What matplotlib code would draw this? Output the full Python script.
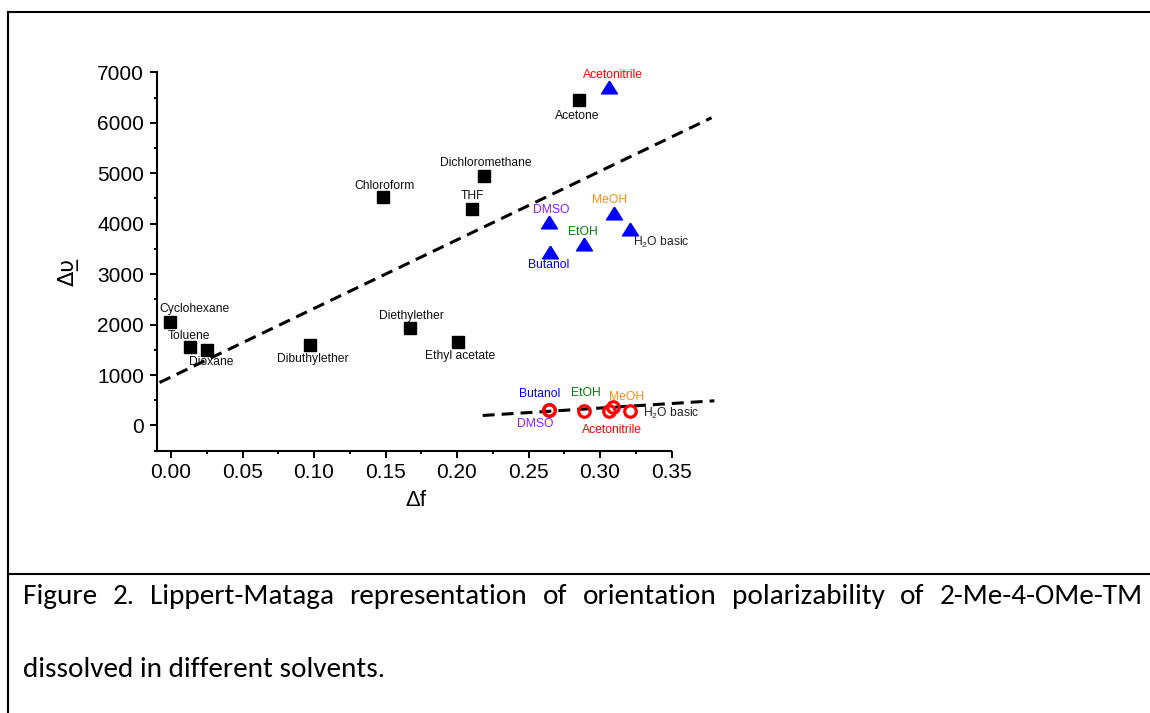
"""Lippert-Mataga plot of 2-Me-4-OMe-TM in different solvents, with caption box."""

import matplotlib
matplotlib.use("Agg")
import matplotlib.pyplot as plt
from matplotlib import font_manager
from matplotlib.lines import Line2D
from matplotlib.ticker import MultipleLocator

# Squares (black), upper series
sq_names = ["Cyclohexane", "Toluene", "Dioxane", "Dibuthylether", "Diethylether",
            "Ethyl acetate", "Chloroform", "THF", "Dichloromethane", "Acetone"]
sq_x = [-0.001, 0.0135, 0.025, 0.0974, 0.1673, 0.2007, 0.1485, 0.2105, 0.219, 0.285]
sq_y = [2059, 1564, 1499, 1598, 1929, 1663, 4529, 4285, 4950, 6450]

# Triangles (blue), upper series
tri_names = ["Acetonitrile", "DMSO", "MeOH", "EtOH", "H$_2$O basic", "Butanol"]
tri_x = [0.3065, 0.264, 0.3095, 0.289, 0.3207, 0.2648]
tri_y = [6713, 4040, 4218, 3598, 3895, 3446]

# Open circles (red), lower series
circ_names = ["Butanol", "DMSO", "EtOH", "MeOH", "Acetonitrile", "H$_2$O basic"]
circ_x = [0.2646, 0.2644, 0.289, 0.309, 0.306, 0.3207]
circ_y = [311, 305, 277, 376, 291, 277]

# dashed fit lines
fit_hi_x = [-0.008, 0.378]
fit_hi_y = [851, 6099]
fit_lo_x = [0.218, 0.380]
fit_lo_y = [198, 489]

CAPTION_1 = "Figure 2. Lippert-Mataga representation of orientation polarizability of 2-Me-4-OMe-TM"
CAPTION_2 = "dissolved in different solvents."

# label offsets in pixels (dx, dy up) and alignment
SQ_OFFS = [(25, 13), (-1, 11), (4, -12), (3, -14), (1, 12), (2, -14), (1, 11), (0, 13), (2, 13), (-1, -16)]
TRI_OFFS = [(4, 12), (3, 12), (-4, 13), (-1, 12), (3, -13), (-1, -13)]
TRI_HA = ["center", "center", "center", "center", "left", "center"]
CIRC_OFFS = [(-10, 16), (-14, -14), (2, 18), (14, 10), (3, -19), (13, -2)]
CIRC_HA = ["center", "center", "center", "center", "center", "left"]
SOLVENT_COLORS = {
    "Acetonitrile": "#ff0000", "DMSO": "#8a1cff", "MeOH": "#ff8c1a",
    "EtOH": "#008000", "Butanol": "#0000ff", "H$_2$O basic": "#222222",
}

W, H, DPI = 1150, 713, 100


def _pick_font(cands):
    names = {f.name for f in font_manager.fontManager.ttflist}
    for c in cands:
        if c in names:
            return c
    return "DejaVu Sans"


def px_x(px):
    return px / W


def px_y(py):
    return (H - py) / H


def main() -> None:
    plt.rcParams["font.family"] = ["Liberation Sans", "DejaVu Sans"]
    plt.rcParams["mathtext.default"] = "regular"

    fig = plt.figure(figsize=(W / DPI, H / DPI), dpi=DPI)
    ax = fig.add_axes([px_x(156.7), px_y(450.7), (671.5 - 156.7) / W, (450.7 - 72.3) / H])

    lw_dash = 2.2
    for xs, ys in ((fit_hi_x, fit_hi_y), (fit_lo_x, fit_lo_y)):
        line, = ax.plot(xs, ys, color="black", lw=lw_dash, clip_on=False, zorder=2)
        line.set_dashes((3.9, 2.3))

    ax.plot(sq_x, sq_y, ls="none", marker="s", ms=8.5, color="black", clip_on=False, zorder=3)
    tri_marker = [(0, 0.8), (-1, -0.8), (1, -0.8), (0, 0.8)]
    ax.plot(tri_x, tri_y, ls="none", marker=tri_marker, ms=11.5, color="#0000ff",
            clip_on=False, zorder=3)
    ax.plot(circ_x, circ_y, ls="none", marker="o", ms=8.3, mfc="none", mec="#ff0000",
            mew=2.3, clip_on=False, zorder=3)

    lab_kw = dict(textcoords="offset pixels", va="center", fontsize=8.7, annotation_clip=False)
    for name, x, y, off in zip(sq_names, sq_x, sq_y, SQ_OFFS):
        ax.annotate(name, (x, y), xytext=off, ha="center", color="#111111", **lab_kw)
    for name, x, y, off, ha in zip(tri_names, tri_x, tri_y, TRI_OFFS, TRI_HA):
        ax.annotate(name, (x, y), xytext=off, ha=ha, color=SOLVENT_COLORS[name], **lab_kw)
    for name, x, y, off, ha in zip(circ_names, circ_x, circ_y, CIRC_OFFS, CIRC_HA):
        ax.annotate(name, (x, y), xytext=off, ha=ha, color=SOLVENT_COLORS[name], **lab_kw)

    ax.set_xlim(-0.01, 0.35)
    ax.set_ylim(-500, 7000)
    ax.xaxis.set_major_locator(MultipleLocator(0.05))
    ax.xaxis.set_minor_locator(MultipleLocator(0.025))
    ax.yaxis.set_major_locator(MultipleLocator(1000))
    ax.yaxis.set_minor_locator(MultipleLocator(500))
    ax.xaxis.set_major_formatter(matplotlib.ticker.FormatStrFormatter("%.2f"))
    ax.spines[["top", "right"]].set_visible(False)
    for sp in ("left", "bottom"):
        ax.spines[sp].set_linewidth(1.5)
    ax.tick_params(which="major", length=5, width=1.4, labelsize=15, pad=4)
    ax.tick_params(which="minor", length=2.5, width=1.4)
    ax.set_facecolor("none")

    # axis labels placed at figure pixel positions
    fig.text(px_x(416), px_y(500), "\u0394f", fontsize=16, ha="center", va="center")
    fig.text(px_x(68), px_y(272), "\u0394\u03c5\u0332", fontsize=16, ha="center", va="center",
             rotation=90, family=["DejaVu Sans"])

    # frame around the figure and caption separator
    frame_kw = dict(color="black", lw=1.5, transform=fig.transFigure, solid_capstyle="projecting")
    fig.add_artist(Line2D([px_x(7.5), 1.01], [px_y(12), px_y(12)], **frame_kw))
    fig.add_artist(Line2D([px_x(7.5), px_x(7.5)], [px_y(12), -0.01], **frame_kw))
    fig.add_artist(Line2D([px_x(7.5), 1.01], [px_y(574), px_y(574)], **frame_kw))

    # caption: size from line 2 width, justify line 1
    cap_font = _pick_font(["Carlito", "Liberation Sans Narrow", "Lato", "Open Sans"])
    renderer = fig.canvas.get_renderer()
    probe = fig.text(0, 0, CAPTION_2, fontsize=20, family=cap_font)
    w_probe = probe.get_window_extent(renderer).width
    probe.remove()
    cap_size = 20 * (362 / w_probe)

    left_px, right_px = 23, 1143
    fig.text(px_x(left_px), px_y(677), CAPTION_2, fontsize=cap_size, family=cap_font,
             ha="left", va="baseline")
    words = CAPTION_1.split()
    texts = [fig.text(0, px_y(604), wd, fontsize=cap_size, family=cap_font,
                      ha="left", va="baseline") for wd in words]
    widths = [t.get_window_extent(renderer).width for t in texts]
    gap = (right_px - left_px - sum(widths)) / (len(words) - 1)
    xpos = left_px
    for t, w in zip(texts, widths):
        t.set_x(px_x(xpos))
        xpos += w + gap

    fig.savefig("out.png", dpi=DPI)
    plt.close(fig)


if __name__ == "__main__":
    main()
